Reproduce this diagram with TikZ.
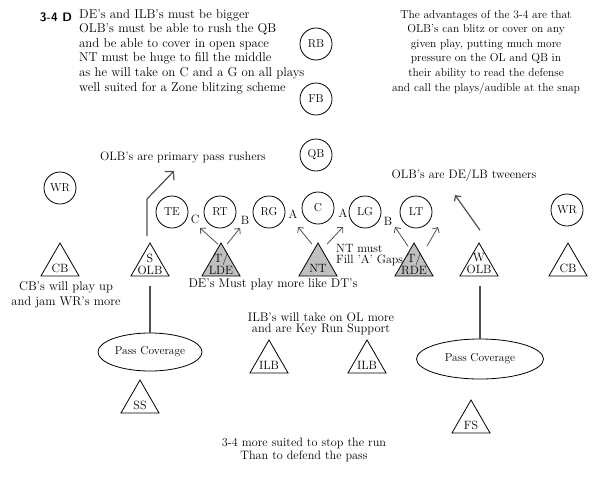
\documentclass[tikz,border=0pt]{standalone}
\usepackage{tikz}
\usetikzlibrary{positioning,shapes.geometric,arrows.meta}
\definecolor{linegray}{HTML}{C0C0C0}
\definecolor{routegray}{HTML}{505050}

\begin{document}
\begin{tikzpicture}[x=1pt, y=-1pt,
    font=\fontsize{12.2}{13}\selectfont,
    offense/.style={circle, draw, line width=0.8pt, minimum size=32pt, inner sep=0pt, font=\fontsize{11.5}{12}\selectfont},
    defense/.style={regular polygon, regular polygon sides=3, draw, line width=0.8pt, minimum size=44pt, inner sep=0pt},
    dline/.style={defense, fill=linegray},
    inlbl/.style={align=center, inner sep=0pt, font=\fontsize{12}{12}\selectfont},
    gap/.style={inner sep=0pt, font=\fontsize{12}{12}\selectfont},
    note/.style={align=center, inner sep=0pt},
    coverage/.style={ellipse, draw, line width=0.8pt, inner sep=0pt, font=\fontsize{11.5}{12}\selectfont},
    route/.style={draw=routegray, line width=1.2pt},
    rusharrow/.style={route, -{Straight Barb[length=6pt, width=13pt]}},
    fitarrow/.style={draw=routegray, line width=0.8pt, -{Straight Barb[length=4pt, width=8pt]}}
  ]
    \useasboundingbox (0,0) rectangle (601,479);

    % Notes on top
    \node (title) at (56,17) {\sffamily\bfseries 3-4 D};
    \node (notesl) at (79,9) [note, anchor=north west, align=left, font=\fontsize{12.8}{14.6}\selectfont]
      {DE's and ILB's must be bigger\\OLB's must be able to rush the QB\\and be able to cover in open space\\NT must be huge to fill the middle\\as he will take on C and a G on all plays\\well suited for a Zone blitzing scheme};
    \node (notesr) at (486,52) [note, font=\fontsize{11.5}{14.6}\selectfont]
      {The advantages of the 3-4 are that\\OLB's can blitz or cover on any\\given play, putting much more\\pressure on the OL and QB in\\their ability to read the defense\\and call the plays/audible at the snap};

    % Offense
    \node (rb) at (316,44) [offense] {RB};
    \node (fb) at (316,99) [offense] {FB};
    \node (qb) at (316,155) [offense] {QB};
    \node (wrl) at (60,188) [offense] {WR};
    \node (te) at (172,212) [offense] {TE};
    \node (rt) at (220,212) [offense] {RT};
    \node (rg) at (269,212) [offense] {RG};
    \node (ctr) at (318,208) [offense] {C};
    \node (lg) at (365,212) [offense] {LG};
    \node (lt) at (416,212) [offense] {LT};
    \node (wrr) at (567,210) [offense] {WR};

    % Gaps
    \node (gapc) at (195,219) [gap] {C};
    \node (gapbr) at (245,220) [gap] {B};
    \node (gapar) at (293,214) [gap] {A};
    \node (gapal) at (343,213) [gap] {A};
    \node (gapbl) at (388,221) [gap] {B};

    % Front seven and corners
    \node (cbl) at (60,265) [defense, label={[inlbl, yshift=-3pt]center:CB}] {};
    \node (sole) at (150,265) [defense, label={[inlbl, yshift=1pt]center:S\\OLB}] {};
    \node (lde) at (221,265) [dline, label={[inlbl, yshift=1pt]center:T/\\LDE}] {};
    \node (nt) at (318,265) [dline, label={[inlbl, yshift=-3pt]center:NT}] {};
    \node (rde) at (414,265) [dline, label={[inlbl, yshift=1pt]center:T/\\RDE}] {};
    \node (wole) at (479,265) [defense, label={[inlbl, yshift=1pt]center:W\\OLB}] {};
    \node (cbr) at (568,265) [defense, label={[inlbl, yshift=-3pt]center:CB}] {};

    % Linebackers and safeties
    \node (ilbl) at (269,362) [defense, label={[inlbl, yshift=-3pt]center:ILB}] {};
    \node (ilbr) at (367,362) [defense, label={[inlbl, yshift=-3pt]center:ILB}] {};
    \node (ss) at (140,402) [defense, label={[inlbl, yshift=-3pt]center:SS}] {};
    \node (fs) at (471,422) [defense, label={[inlbl, yshift=-3pt]center:FS}] {};

    % Coverage zones
    \node (passl) at (150,352) [coverage, minimum width=104pt, minimum height=38pt] {Pass Coverage};
    \node (passr) at (480,359) [coverage, minimum width=127pt, minimum height=40pt] {Pass Coverage};
    \draw[route] (passl.north) -- ([yshift=-10pt]passl.north |- sole.south);
    \draw[route] (passr.north) -- ([yshift=-10pt]passr.north |- wole.south);

    % Pass rush routes
    \coordinate (solebend) at (147,199);
    \coordinate (soletip) at (174,171);
    \coordinate (woletip) at (455,195);
    \draw[rusharrow] ([xshift=-3pt, yshift=6pt]sole.north) -- (solebend) -- (soletip);
    \draw[fitarrow, line width=1.2pt] ([xshift=1pt, yshift=12pt]wole.north) -- (woletip);

    % Gap fits
    \coordinate (ldel) at (200,228);
    \coordinate (lder) at (240,228);
    \coordinate (ntl) at (298,227);
    \coordinate (ntr) at (343,227);
    \coordinate (rdel) at (395,227);
    \coordinate (rder) at (438,227);
    \draw[fitarrow] ([xshift=-3pt, yshift=-2pt]lde.north) -- (ldel);
    \draw[fitarrow] ([xshift=6pt, yshift=-2pt]lde.north) -- (lder);
    \draw[fitarrow] ([xshift=-6pt, yshift=-2pt]nt.north) -- (ntl);
    \draw[fitarrow] ([xshift=9pt, yshift=-2pt]nt.north) -- (ntr);
    \draw[fitarrow] ([xshift=-6pt, yshift=-4pt]rde.north) -- (rdel);
    \draw[fitarrow] ([xshift=13pt, yshift=-4pt]rde.north) -- (rder);

    % Side notes
    \node (rushers) at (183,157) [note] {OLB's are primary pass rushers};
    \node (tweeners) at (464,175) [note] {OLB's are DE/LB tweeners};
    \node (ntnote) at (336,255) [note, anchor=west, align=left, font=\fontsize{12}{11}\selectfont] {NT must\\Fill 'A' Gaps};
    \node (dtlike) at (273,284) [note, font=\fontsize{12.6}{13}\selectfont] {DE's Must play more like DT's};
    \node (cbnote) at (66,295) [note, font=\fontsize{12.6}{15}\selectfont] {CB's will play up\\and jam WR's more};
    \node (ilbnote) at (321,324) [note, font=\fontsize{12.4}{11}\selectfont] {ILB's will take on OL more\\and are Key Run Support};
    \node (runnote) at (304,450) [note, font=\fontsize{12.2}{13}\selectfont] {3-4 more suited to stop the run\\Than to defend the pass};
  \end{tikzpicture}
\end{document}
